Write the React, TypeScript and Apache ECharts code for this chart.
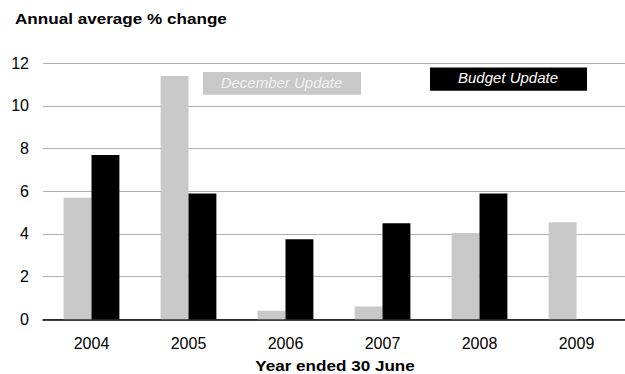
import React, { useEffect, useRef } from "react";
import * as echarts from "echarts";

const categories = ["2004", "2005", "2006", "2007", "2008", "2009"];
const decemberUpdate = [5.7, 11.4, 0.4, 0.6, 4.05, 4.55];
const budgetUpdate: (number | null)[] = [7.7, 5.9, 3.75, 4.5, 5.9, null];
const yTicks = [0, 2, 4, 6, 8, 10, 12];

export default function App() {
  const ref = useRef<HTMLDivElement>(null);
  useEffect(() => {
    if (!ref.current) return;
    const chart = echarts.init(ref.current, undefined, { renderer: "svg" });
    const font = "Liberation Sans";
    chart.setOption({
      animation: false,
      textStyle: { fontFamily: font },
      grid: { left: 43, right: 0, top: 63.3, bottom: 54.7, containLabel: false },
      xAxis: {
        type: "category",
        data: categories,
        axisTick: { show: false },
        axisLine: { lineStyle: { color: "#000", width: 1.5 } },
        axisLabel: { color: "#000", fontSize: 16, margin: 16, fontFamily: font },
      },
      yAxis: {
        type: "value",
        min: yTicks[0],
        max: yTicks[yTicks.length - 1],
        interval: 2,
        axisLine: { show: false },
        axisTick: { show: false },
        axisLabel: { color: "#000", fontSize: 16, margin: 14, fontFamily: font },
        splitLine: { lineStyle: { color: "#b0b0b0", width: 1 } },
      },
      series: [
        {
          name: "December Update",
          type: "bar",
          data: decemberUpdate,
          itemStyle: { color: "#c8c8c8" },
          barGap: "0%",
          barCategoryGap: "42.5%",
        },
        {
          name: "Budget Update",
          type: "bar",
          data: budgetUpdate,
          itemStyle: { color: "#000" },
          barGap: "0%",
          barCategoryGap: "42.5%",
        },
      ],
      graphic: [
        {
          type: "text",
          x: 15,
          y: 18.7,
          scaleX: 1.14,
          style: {
            text: "Annual average % change",
            fontFamily: font,
            fontSize: 15,
            fontWeight: "bold",
            fill: "#000",
            align: "left",
            verticalAlign: "middle",
          },
        },
        {
          type: "text",
          x: 335,
          y: 365.3,
          scaleX: 1.14,
          style: {
            text: "Year ended 30 June",
            fontFamily: font,
            fontSize: 15,
            fontWeight: "bold",
            fill: "#000",
            align: "center",
            verticalAlign: "middle",
          },
        },
        {
          type: "rect",
          shape: { x: 203, y: 72, width: 158, height: 22.7 },
          style: { fill: "#c8c8c8" },
        },
        {
          type: "text",
          x: 281.5,
          y: 82,
          style: {
            text: "December Update",
            fontFamily: font,
            fontSize: 15,
            fontStyle: "italic",
            fill: "#f2f2f2",
            align: "center",
            verticalAlign: "middle",
          },
        },
        {
          type: "rect",
          shape: { x: 430, y: 67.5, width: 157, height: 23.2 },
          style: { fill: "#000" },
        },
        {
          type: "text",
          x: 508,
          y: 77.5,
          style: {
            text: "Budget Update",
            fontFamily: font,
            fontSize: 15,
            fontStyle: "italic",
            fill: "#fff",
            align: "center",
            verticalAlign: "middle",
          },
        },
      ],
    });
    return () => chart.dispose();
  }, []);
  return <div ref={ref} style={{ width: 625, height: 374, position: "absolute", left: 0, top: 0 }} />;
}
